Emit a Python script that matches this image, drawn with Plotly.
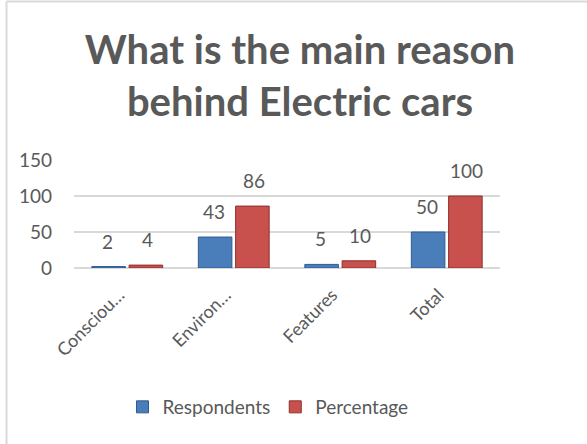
import plotly.graph_objects as go

categories = ["Consciou…", "Environ…", "Features", "Total"]
respondents = [2, 43, 5, 50]
percentage = [4, 86, 10, 100]
series_names = ["Respondents", "Percentage"]
y_ticks = [0, 50, 100, 150]

W, H = 587, 444
ML, MR, MT, MB = 74, 87, 160, 176
pw, ph = W - ML - MR, H - MT - MB

FONT = "Lato"
GREY = "#595959"

fig = go.Figure()
fig.add_trace(go.Bar(
    name=series_names[0], x=categories, y=respondents,
    marker=dict(color="#4a7ebb", line=dict(color="#2f5a8f", width=1)),
))
fig.add_trace(go.Bar(
    name=series_names[1], x=categories, y=percentage,
    marker=dict(color="#c8504d", line=dict(color="#8e2f2d", width=1)),
))

for vals, shift in ((respondents, -20), (percentage, 20)):
    for c, v in zip(categories, vals):
        fig.add_annotation(
            x=c, y=v, xref="x", yref="y", text=str(v), showarrow=False,
            xshift=shift, yshift=12, yanchor="bottom", xanchor="center",
            font=dict(family=FONT, size=19, color=GREY),
        )

# chart-area border (left and top edges)
x0 = (6.5 - ML) / pw
y1 = 1 + (MT - 1.5) / ph
fig.add_shape(type="line", xref="paper", yref="paper", x0=x0, x1=x0, y0=-MB / ph, y1=y1,
              line=dict(color="#d9d9d9", width=2))
fig.add_shape(type="line", xref="paper", yref="paper", x0=x0, x1=(W - ML) / pw, y0=y1, y1=y1,
              line=dict(color="#d9d9d9", width=2))

fig.update_layout(
    width=W, height=H,
    margin=dict(l=ML, r=MR, t=MT, b=MB),
    paper_bgcolor="white", plot_bgcolor="white",
    barmode="group", bargap=0.3, bargroupgap=0.1,
    font=dict(family=FONT, color=GREY, size=18),
    title=dict(
        text="What is the main reason<br>behind Electric cars",
        x=300 / W, xanchor="center", y=1 - 64 / H, yanchor="middle",
        font=dict(family=FONT, size=40, color=GREY, weight="bold"),
    ),
    showlegend=True,
    legend=dict(
        orientation="h", x=(268 - ML) / pw, xanchor="center",
        y=-(407 - (MT + ph)) / ph, yanchor="middle",
        font=dict(family=FONT, size=19, color=GREY),
        itemwidth=30, traceorder="normal",
    ),
    xaxis=dict(
        tickangle=-45, showgrid=False, showline=False, ticks="",
        ticklabelstandoff=12, ticklabelshift=-8,
        tickfont=dict(family=FONT, size=18, color=GREY),
    ),
    yaxis=dict(
        range=[0, 150], tickvals=y_ticks, showgrid=True, gridcolor="#d9d9d9", gridwidth=1.5,
        zeroline=True, zerolinecolor="#d9d9d9", zerolinewidth=1.5, showline=False,
        ticklabelstandoff=21, tickfont=dict(family=FONT, size=19, color=GREY),
    ),
)

fig.write_html("out.html", config={"displayModeBar": False},
               post_script="document.body.style.margin='0';")
